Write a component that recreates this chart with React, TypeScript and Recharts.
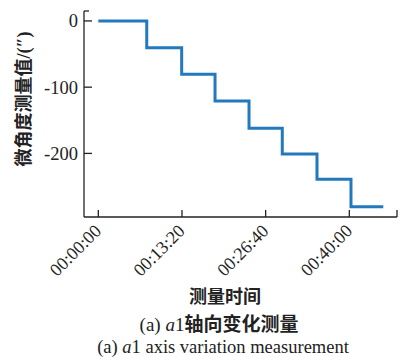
import { LineChart, Line, XAxis, YAxis } from 'recharts';

// change times in seconds and the level held after each change
const times = [0, 463, 797, 1116, 1441, 1759, 2091, 2416, 2725];
const values = [0, -40.5, -80.5, -121, -162, -201, -239, -280.5, -280.5];
const xTicks = [0, 800, 1600, 2400];
const yTicks = [-200, -100, 0];
const xDomain = [-137, 2856];
const yDomain = [-296, 15];

const data = times.map((t, i) => ({ t, v: values[i] }));

const serif = '"Liberation Serif", "DejaVu Serif", serif';
const cjk = '"Liberation Serif", "Noto Sans CJK SC", serif';

function fmtTime(s: number) {
  const h = Math.floor(s / 3600);
  const m = Math.floor((s % 3600) / 60);
  const sec = s % 60;
  const p = (n: number) => String(n).padStart(2, '0');
  return `${p(h)}:${p(m)}:${p(sec)}`;
}

function XTick({ x, y, payload }: any) {
  const isEnd = payload.value === xDomain[1];
  return (
    <g>
      <line x1={x} y1={y} x2={x} y2={y - 7} stroke="#222" strokeWidth={1.3} />
      {!isEnd && (
        <text
          x={x + 4}
          y={y + 15}
          textAnchor="end"
          transform={`rotate(-45 ${x + 4} ${y + 15})`}
          fontFamily={serif}
          fontSize={18}
          fill="#222"
        >
          {fmtTime(payload.value)}
        </text>
      )}
    </g>
  );
}

function YTick({ x, y, payload }: any) {
  const isEnd = payload.value === yDomain[1];
  return (
    <g>
      <line x1={x} y1={y} x2={x + (isEnd ? 5 : 8)} y2={y} stroke="#222" strokeWidth={1.3} />
      {!isEnd && (
        <text x={x - 6} y={y} dy="0.35em" textAnchor="end" fontFamily={serif} fontSize={18.5} fill="#222">
          {payload.value}
        </text>
      )}
    </g>
  );
}

export default function App() {
  return (
    <div style={{ position: 'absolute', left: 0, top: 0, width: 401, height: 357, background: '#fff' }}>
      <LineChart width={401} height={357} data={data} margin={{ top: 11, right: 4, left: 0, bottom: 0 }}>
        <XAxis
          dataKey="t"
          type="number"
          domain={xDomain}
          ticks={[...xTicks, xDomain[1]]}
          interval={0}
          tick={<XTick />}
          tickSize={0}
          tickMargin={0}
          tickLine={false}
          axisLine={{ stroke: '#222', strokeWidth: 1.3 }}
          height={140}
          allowDataOverflow
        />
        <YAxis
          dataKey="v"
          type="number"
          domain={yDomain}
          ticks={[...yTicks, yDomain[1]]}
          interval={0}
          tick={<YTick />}
          tickSize={0}
          tickMargin={0}
          tickLine={false}
          axisLine={{ stroke: '#222', strokeWidth: 1.3 }}
          width={84}
          allowDataOverflow
        />
        <Line
          type="stepAfter"
          dataKey="v"
          stroke="#2379bd"
          strokeWidth={3}
          dot={false}
          isAnimationActive={false}
        />
      </LineChart>
      <div
        style={{
          position: 'absolute',
          left: 24,
          top: 99,
          transform: 'translate(-50%, -50%) rotate(-90deg)',
          whiteSpace: 'nowrap',
          fontFamily: cjk,
          fontWeight: 700,
          fontSize: 18,
          color: '#222',
          lineHeight: 1,
        }}
      >
        微角度测量值/(″)
      </div>
      <div
        style={{
          position: 'absolute',
          left: 225,
          top: 297,
          transform: 'translate(-50%, -50%)',
          whiteSpace: 'nowrap',
          fontFamily: cjk,
          fontWeight: 700,
          fontSize: 18,
          color: '#222',
          lineHeight: 1,
        }}
      >
        测量时间
      </div>
      <div
        style={{
          position: 'absolute',
          left: 219,
          top: 324,
          transform: 'translate(-50%, -50%)',
          whiteSpace: 'nowrap',
          fontFamily: cjk,
          fontSize: 19,
          color: '#222',
          lineHeight: 1,
        }}
      >
        (a) <i>a</i>1<b>轴向变化测量</b>
      </div>
      <div
        style={{
          position: 'absolute',
          left: 223,
          top: 347,
          transform: 'translate(-50%, -50%)',
          whiteSpace: 'nowrap',
          fontFamily: serif,
          fontSize: 18.5,
          color: '#222',
          lineHeight: 1,
        }}
      >
        (a) <i>a</i>1 axis variation measurement
      </div>
    </div>
  );
}
